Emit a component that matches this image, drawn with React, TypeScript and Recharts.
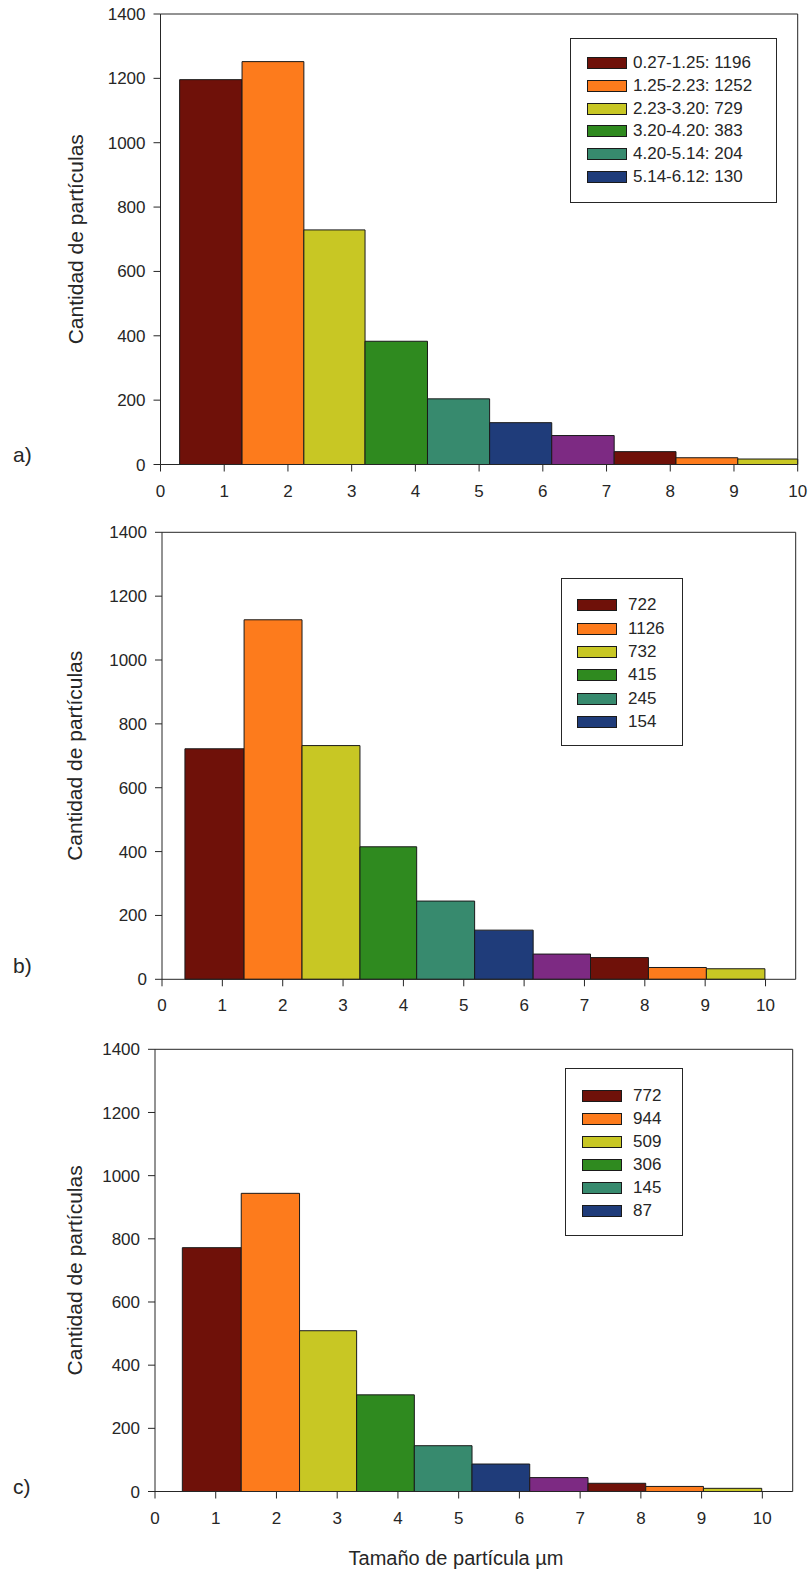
import React from 'react';
import { ComposedChart, XAxis, YAxis, ReferenceArea, ReferenceLine } from 'recharts';

const FONT = '"Liberation Sans", Arial, Helvetica, sans-serif';
const INK = '#262626';

// bar colours (repeat after the 7th bin)
const binColors = ['#6f1109', '#fd7b1c', '#c8c724', '#2f8a1f', '#378a6e', '#1f3c7a', '#7d2a83', '#6f1109', '#fd7b1c', '#c8c724'];

// panel a
const edgesA = [0.3, 1.28, 2.25, 3.21, 4.19, 5.165, 6.14, 7.12, 8.09, 9.06, 10.0];
const countsA = [1196, 1252, 729, 383, 204, 130, 90, 40, 21, 17];
const legendA = ['0.27-1.25: 1196', '1.25-2.23: 1252', '2.23-3.20: 729', '3.20-4.20: 383', '4.20-5.14: 204', '5.14-6.12: 130'];

// panel b
const edgesB = [0.38, 1.36, 2.32, 3.28, 4.22, 5.18, 6.15, 7.1, 8.06, 9.02, 9.99];
const countsB = [722, 1126, 732, 415, 245, 154, 79, 68, 37, 33];
const legendB = ['722', '1126', '732', '415', '245', '154'];

// panel c
const edgesC = [0.45, 1.42, 2.38, 3.32, 4.27, 5.22, 6.17, 7.13, 8.08, 9.03, 9.99];
const countsC = [772, 944, 509, 306, 145, 87, 44, 26, 16, 10];
const legendC = ['772', '944', '509', '306', '145', '87'];

const xTicks = [0, 1, 2, 3, 4, 5, 6, 7, 8, 9, 10];
const yTicks = [0, 200, 400, 600, 800, 1000, 1200, 1400];
const yTitle = 'Cantidad de partículas';
const xTitle = 'Tamaño de partícula µm';

type PanelProps = {
  top: number;
  height: number;
  plotTop: number;
  plotBottom: number;
  plotLeft: number;
  plotRight: number;
  xMax: number;
  edges: number[];
  counts: number[];
  showXTitle?: boolean;
};

function Panel(p: PanelProps) {
  const xAxisHeight = p.showXTitle ? 70 : 30;
  const marginTop = p.plotTop - p.top;
  const marginBottom = p.top + p.height - p.plotBottom - xAxisHeight;
  const data = p.counts.map((c, i) => ({ mid: (p.edges[i] + p.edges[i + 1]) / 2, count: c }));

  const yLabel = (props: any) => {
    const vb = props.viewBox || {};
    const cy = (vb.y || 0) + (vb.height || 0) / 2;
    const cx = 75;
    return (
      <text x={cx} y={cy} transform={`rotate(-90 ${cx} ${cy})`} textAnchor="middle" dominantBaseline="central"
        fontSize={21} fontFamily={FONT} fill={INK}>{yTitle}</text>
    );
  };
  const xLabel = (props: any) => {
    const vb = props.viewBox || {};
    const y = (vb.y || 0) + 66;
    return (
      <text x={456} y={y} textAnchor="middle" dominantBaseline="central" fontSize={20} fontFamily={FONT} fill={INK}>{xTitle}</text>
    );
  };

  return (
    <div style={{ position: 'absolute', left: 0, top: p.top }}>
      <ComposedChart width={808} height={p.height} data={data}
        margin={{ top: marginTop, bottom: marginBottom, left: 0, right: 808 - p.plotRight }}>
        <XAxis dataKey="mid" type="number" domain={[0, p.xMax]} ticks={xTicks} interval={0} allowDataOverflow
          height={xAxisHeight} tickSize={7} tickMargin={13}
          axisLine={{ stroke: INK }} tickLine={{ stroke: INK }}
          tick={{ fontSize: 17, fontFamily: FONT, fill: INK }}
          label={p.showXTitle ? xLabel : undefined} />
        <YAxis type="number" domain={[0, 1400]} ticks={yTicks} interval={0} allowDataOverflow
          width={p.plotLeft} tickSize={7} tickMargin={8}
          axisLine={{ stroke: INK }} tickLine={{ stroke: INK }}
          tick={{ fontSize: 17, fontFamily: FONT, fill: INK }}
          label={yLabel} />
        {p.counts.map((c, i) => (
          <ReferenceArea key={i} x1={p.edges[i]} x2={p.edges[i + 1]} y1={0} y2={c}
            fill={binColors[i]} fillOpacity={1} stroke="#1a1a1a" strokeWidth={1} ifOverflow="visible" />
        ))}
        <ReferenceLine y={1400} stroke={INK} strokeWidth={1} />
        <ReferenceLine x={p.xMax} stroke={INK} strokeWidth={1} />
      </ComposedChart>
    </div>
  );
}

type LegendProps = {
  left: number; top: number; width: number; height: number;
  labels: string[]; swatchLeft: number; textLeft: number; firstRow: number; rowGap: number;
};

function LegendBox(l: LegendProps) {
  return (
    <div style={{ position: 'absolute', left: l.left, top: l.top, width: l.width, height: l.height,
      border: `1px solid ${INK}`, boxSizing: 'border-box', background: 'transparent' }}>
      {l.labels.map((t, i) => {
        const cy = l.firstRow + l.rowGap * i - l.top;
        return (
          <React.Fragment key={i}>
            <div style={{ position: 'absolute', left: l.swatchLeft - l.left, top: cy - 6, width: 40, height: 12,
              background: binColors[i], border: '1px solid #1a1a1a', boxSizing: 'border-box' }} />
            <div style={{ position: 'absolute', left: l.textLeft - l.left, top: cy - 10, height: 20, lineHeight: '20px',
              fontSize: 17, fontFamily: FONT, color: INK, whiteSpace: 'nowrap' }}>{t}</div>
          </React.Fragment>
        );
      })}
    </div>
  );
}

function PanelTag({ text, top }: { text: string; top: number }) {
  return (
    <div style={{ position: 'absolute', left: 13, top: top - 12, height: 24, lineHeight: '24px',
      fontSize: 21, fontFamily: FONT, color: INK }}>{text}</div>
  );
}

export default function App() {
  return (
    <div style={{ position: 'absolute', left: 0, top: 0, width: 808, height: 1575, background: '#fff', overflow: 'hidden' }}>
      <Panel top={0} height={520} plotTop={14} plotBottom={464.5} plotLeft={160.5} plotRight={797.7}
        xMax={10} edges={edgesA} counts={countsA} />
      <Panel top={500} height={540} plotTop={532.3} plotBottom={979.3} plotLeft={162} plotRight={795.7}
        xMax={10.5} edges={edgesB} counts={countsB} />
      <Panel top={1020} height={555} plotTop={1049.3} plotBottom={1491.5} plotLeft={155} plotRight={792.7}
        xMax={10.5} edges={edgesC} counts={countsC} showXTitle />
      <LegendBox left={570} top={38} width={207} height={165} labels={legendA}
        swatchLeft={586} textLeft={632} firstRow={62} rowGap={22.8} />
      <LegendBox left={561} top={578} width={122} height={168} labels={legendB}
        swatchLeft={576} textLeft={627} firstRow={604.3} rowGap={23.3} />
      <LegendBox left={565} top={1068} width={118} height={168} labels={legendC}
        swatchLeft={581} textLeft={632} firstRow={1095} rowGap={23} />
      <PanelTag text="a)" top={455} />
      <PanelTag text="b)" top={966} />
      <PanelTag text="c)" top={1487} />
    </div>
  );
}
